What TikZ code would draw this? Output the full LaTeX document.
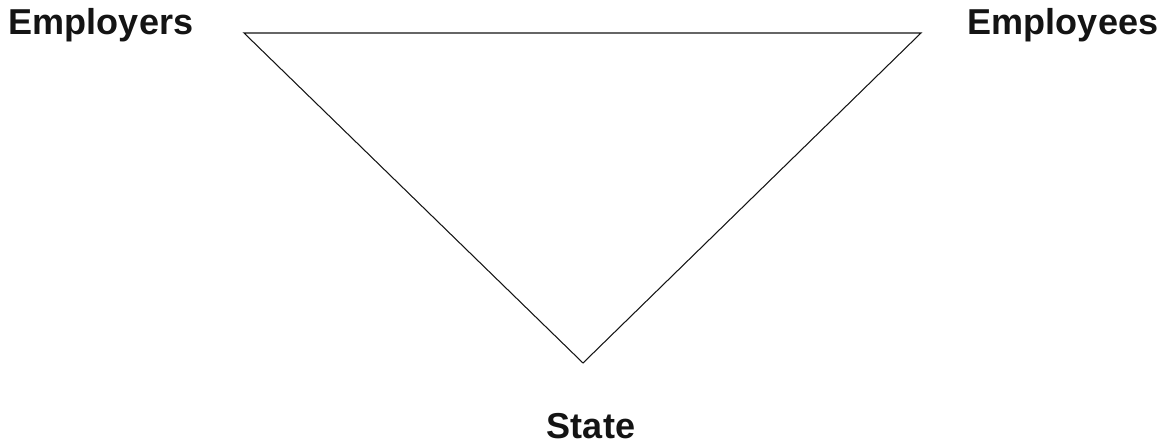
\documentclass[tikz,border=0pt]{standalone}
\usepackage{fontspec}
\setmainfont{Liberation Sans}
\usetikzlibrary{positioning}
\definecolor{ink}{RGB}{20,20,20}
\tikzset{
  party/.style={font=\fontsize{20.5}{24}\selectfont\bfseries,text=ink,anchor=base,inner sep=0pt},
  side/.style={draw=ink,line width=0.6pt,line join=miter},
}
\begin{document}
\begin{tikzpicture}[x=0.02cm,y=-0.02cm]
  \useasboundingbox (0,0) rectangle (1170,445);
  % corners of the triangle
  \coordinate (left) at (244,33);
  \coordinate (right) at (921,33);
  \coordinate (bottom) at (583,363);
  \draw[side] (left) -- (right) -- (bottom) -- cycle;
  % labels
  \node[party] (employers) at (101,35) {Employers};
  \node[party] (employees) at (1063,35) {Employees};
  \node[party] (state) at (591,439) {State};
\end{tikzpicture}
\end{document}
